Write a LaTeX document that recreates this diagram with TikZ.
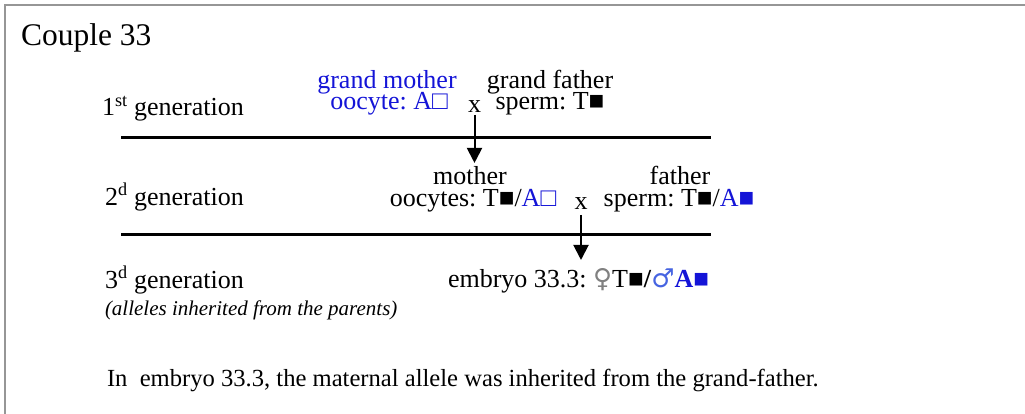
\documentclass[tikz,border=0pt]{standalone}
\usepackage{fontspec}
\setmainfont{Liberation Serif}
\newfontfamily\symfont{DejaVu Sans}
\usetikzlibrary{arrows.meta}
\definecolor{gblue}{RGB}{20,20,215}
\definecolor{mblue}{RGB}{70,100,225}
\definecolor{frame}{RGB}{150,150,150}
\newcommand{\fs}[1]{\fontsize{#1}{#1}\selectfont\frenchspacing}
\begin{document}
\begin{tikzpicture}[x=1pt,y=-1pt,
  txt/.style={inner sep=0pt,outer sep=0pt,font=\fs{26}},
  rule/.style={line width=3pt},
  arr/.style={line width=2pt,-{Triangle[width=15pt,length=15pt]}}]
\useasboundingbox (0,0) rectangle (1025,414);
\draw[frame,line width=2pt] (5,420) -- (5,5.5) -- (1030,5.5);
\node[txt,font=\fs{31.5},anchor=base west] (title) at (21,46) {Couple 33};
% generation labels
\node[txt,anchor=base west] (gen1) at (102,116) {1\textsuperscript{st} generation};
\node[txt,anchor=base west] (gen2) at (105,205) {2\textsuperscript{d} generation};
\node[txt,anchor=base west] (gen3) at (105,288) {3\textsuperscript{d} generation};
\node[txt,font=\fs{21}\itshape,anchor=base west] (note) at (105,315) {(alleles inherited from the parents)};
% first generation
\node[txt,text=gblue,anchor=base] (gmname) at (387,89) {grand mother};
\node[txt,text=gblue,anchor=base] (gmcell) at (389,110) {oocyte: A□};
\node[txt,anchor=base] (x1) at (474.5,113) {x};
\node[txt,anchor=base] (gfname) at (550,89) {grand father};
\node[txt,anchor=base] (gfcell) at (550,110) {sperm: T■};
% rules
\coordinate (r1a) at (121,138);
\coordinate (r1b) at (711,138);
\coordinate (r2a) at (121,234.5);
\coordinate (r2b) at (711,234.5);
\draw[rule] (r1a) -- (r1b);
\draw[rule] (r2a) -- (r2b);
% second generation
\node[txt,anchor=base] (mname) at (470,185) {mother};
\node[txt,anchor=base] (mcell) at (473,207) {oocytes: T■/\textcolor{gblue}{A□}};
\node[txt,anchor=base] (x2) at (581,210) {x};
\node[txt,anchor=base] (fname) at (680,185) {father};
\node[txt,anchor=base] (fcell) at (679,207) {sperm: T■/\textcolor{gblue}{A■}};
% third generation
\node[txt,anchor=base west] (embryo) at (448,287) {embryo 33.3: \textcolor{gray}{\symfont ♀}T■\textbf{/}\textcolor{mblue}{\symfont ♂}\textcolor{gblue}{\textbf{A}■}};
% arrows
\draw[arr,shorten <=2pt,shorten >=4pt] (x1.south) -- (x1.south |- mname.north);
\draw[arr,shorten <=5pt,shorten >=8pt] (x2.south) -- (x2.south |- embryo.north);
% conclusion
\node[txt,font=\fs{24.6},anchor=base west] (concl) at (107,386) {In\ \ embryo 33.3, the maternal allele was inherited from the grand-father.};
\end{tikzpicture}
\end{document}
